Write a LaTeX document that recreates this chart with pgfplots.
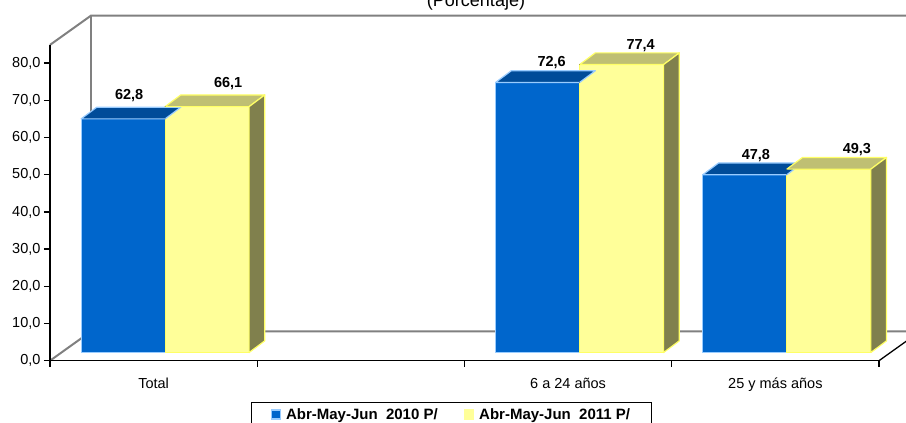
\documentclass[border=0pt]{standalone}
\usepackage{pgfplots}
\pgfplotsset{compat=1.18}
\usepackage{pgfplotstable}
\usepackage{fontspec}
\setmainfont{Liberation Sans}
\definecolor{blueF}{RGB}{0,102,204}
\definecolor{blueT}{RGB}{0,76,153}
\definecolor{blueO}{RGB}{153,204,255}
\definecolor{yelF}{RGB}{255,255,153}
\definecolor{yelT}{RGB}{191,191,115}
\definecolor{yelS}{RGB}{128,128,77}
\definecolor{yelO}{RGB}{255,255,102}
\definecolor{wallgray}{RGB}{128,128,128}

\pgfplotstableread{
x   val   ldx  ldy
0.5 62.8  -36  19
2.5 72.6  -28  16
3.5 47.8  -31  15.5
}\tabA
\pgfplotstableread{
x   val   ldx  ldy
0.5 66.1  63   19.5
2.5 77.4  61   15.5
3.5 49.3  70   15.5
}\tabB

\begin{document}
\begin{tikzpicture}[x=1pt,y=1pt,font=\fontsize{14.5}{17}\selectfont]
% back walls
\draw[wallgray, line width=2pt] (50,62.3) -- (91,91.6) -- (930,91.6);
\draw[wallgray, line width=2pt] (50,378.1) -- (91,407.4) -- (930,407.4);
\draw[wallgray, line width=2pt] (91,91.6) -- (91,407.4);
\draw[black, line width=1.3pt] (879,62.3) -- (920,91.6);

% front frame axis
\begin{axis}[
  at={(50pt,62.3pt)}, anchor=south west,
  scale only axis, width=829pt, height=315.8pt,
  xmin=0, xmax=4, ymin=0, ymax=84.9,
  axis x line*=bottom, axis y line*=left,
  axis line style={-, black, line width=1.3pt},
  xtick={0,1,2,3,4},
  xticklabels={Total,,6 a 24 años,25 y más años},
  x tick label as interval,
  ytick={0,10,...,80},
  tick align=outside, major tick length=6pt,
  tick style={black, line width=1.3pt},
  /pgf/number format/assume math mode=true,
  yticklabel style={/pgf/number format/.cd, fixed, fixed zerofill, precision=1, use comma},
  xticklabel style={anchor=base, yshift=-22pt},
  clip=false,
]
\addplot[draw=none, forget plot] coordinates {(0,0)};
\end{axis}

% bars axis (set back in depth)
\begin{axis}[
  at={(61.5pt,70.5pt)}, anchor=south west,
  scale only axis, width=829pt, height=316.2pt,
  xmin=0, xmax=4, ymin=0, ymax=85,
  hide axis, clip=false,
  /pgf/number format/assume math mode=true,
  /pgf/number format/.cd, fixed, fixed zerofill, precision=1, use comma, /pgfplots/.cd,
  legend style={at={(0.2286,-0.1556)}, anchor=north west, draw=black, line width=1pt,
    font=\bfseries\fontsize{15}{18}\selectfont, inner xsep=19pt, inner ysep=4pt,
    /tikz/every odd column/.append style={column sep=3pt},
    /tikz/every even column/.append style={column sep=24pt}},
  legend columns=2,
]
\addlegendimage{legend image code/.code={\draw[fill=blueF, draw=blueO, line width=1.5pt] (0pt,-4.5pt) rectangle (9pt,4.5pt);}}
\addlegendentry{Abr-May-Jun\ \ 2010 P/}
\addlegendimage{legend image code/.code={\draw[fill=yelF, draw=yelF, line width=1.5pt] (0pt,-4.5pt) rectangle (9pt,4.5pt);}}
\addlegendentry{Abr-May-Jun\ \ 2011 P/}

% blue series: front faces
\addplot[ybar, bar width=84pt, bar shift=-42pt, fill=blueF, draw=blueO, line width=1.2pt, forget plot,
  visualization depends on={\thisrow{ldx} \as \ldx},
  visualization depends on={\thisrow{ldy} \as \ldy},
  nodes near coords,
  every node near coord/.append style={anchor=base, xshift=\ldx pt, yshift=\ldy pt,
    font=\bfseries\fontsize{14.5}{17}\selectfont, text=black},
] table[x=x, y=val]{\tabA};
% blue series: top faces
\addplot[forget plot, only marks, scatter, mark=*, mark size=0.01pt, mark options={draw=none, fill=none},
  scatter/@pre marker code/.code={%
    \filldraw[fill=blueT, draw=blueO, line width=1.2pt, line join=round]
      (-84pt,0pt) -- (-68.3pt,11.7pt) -- (15.7pt,11.7pt) -- (0pt,0pt) -- cycle;
  },
  scatter/@post marker code/.code={},
] table[x=x, y=val]{\tabA};

% yellow series: front faces
\addplot[ybar, bar width=84pt, bar shift=42pt, fill=yelF, draw=yelO, line width=1.2pt, forget plot,
  visualization depends on={\thisrow{ldx} \as \ldx},
  visualization depends on={\thisrow{ldy} \as \ldy},
  nodes near coords,
  every node near coord/.append style={anchor=base, xshift=\ldx pt, yshift=\ldy pt,
    font=\bfseries\fontsize{14.5}{17}\selectfont, text=black},
] table[x=x, y=val]{\tabB};
% yellow series: top and side faces
\addplot[forget plot, only marks, scatter, mark=*, mark size=0.01pt, mark options={draw=none, fill=none},
  visualization depends on={rawy \as \rawy},
  scatter/@pre marker code/.code={%
    \pgfmathsetmacro{\hh}{\rawy*3.72}%
    \filldraw[fill=yelT, draw=yelO, line width=1.2pt, line join=round]
      (0pt,0pt) -- (15.7pt,11.7pt) -- (99.7pt,11.7pt) -- (84pt,0pt) -- cycle;
    \filldraw[fill=yelS, draw=yelO, line width=1.2pt, line join=round]
      (84pt,0pt) -- (99.7pt,11.7pt) -- (99.7pt,11.7pt-\hh pt) -- (84pt,-\hh pt) -- cycle;
  },
  scatter/@post marker code/.code={},
] table[x=x, y=val]{\tabB};
\end{axis}

\node[anchor=base, font=\fontsize{18}{20}\selectfont] at (476,416.5) {(Porcentaje)};

\pgfresetboundingbox
\useasboundingbox (0,0) rectangle (906,423);
\end{tikzpicture}
\end{document}
